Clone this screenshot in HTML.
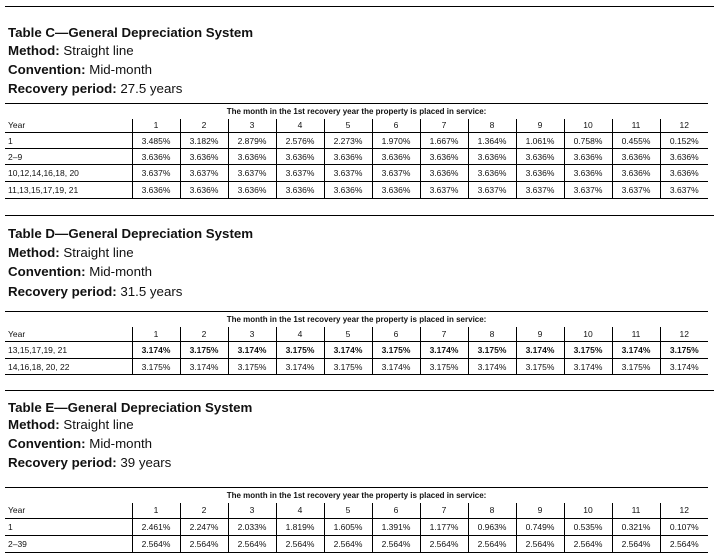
<!DOCTYPE html>
<html><head><meta charset="utf-8"><style>
*{margin:0;padding:0;box-sizing:border-box}
body{width:714px;height:554px;background:#fff;position:relative;overflow:hidden;font-family:"Liberation Sans",Arial,sans-serif;color:#111}
.hl{position:absolute;left:5px;width:709px;height:1px;background:#000}
.t{position:absolute;left:8px;font-size:13.3px;line-height:16px;white-space:nowrap}
.b{font-weight:bold}
table{position:absolute;left:5px;width:703px;border-collapse:collapse;table-layout:fixed;font-size:8.5px}
td{padding:0;text-align:center;vertical-align:middle;border-left:1px solid #000;white-space:nowrap}
td:first-child{border-left:none;text-align:left;padding-left:3px}
tr.r td{border-bottom:1px solid #000}
tr.h td{border:none;border-top:1px solid #000;text-align:center;padding:0;font-weight:bold;font-size:8px}
tr.bold td{font-weight:bold}
</style></head><body>
<div class="hl" style="top:6px"></div>
<div class="t b" style="top:25px">Table C—General Depreciation System</div>
<div class="t" style="top:43px"><b>Method:</b> Straight line</div>
<div class="t" style="top:62px"><b>Convention:</b> Mid-month</div>
<div class="t" style="top:81px"><b>Recovery period:</b> 27.5 years</div>
<table style="top:103px">
<colgroup><col style="width:127px"><col span="12" style="width:48px"></colgroup>
<tr class="h" style="height:15px"><td colspan="13">The month in the 1st recovery year the property is placed in service:</td></tr>
<tr class="r" style="height:14px"><td>Year</td><td>1</td><td>2</td><td>3</td><td>4</td><td>5</td><td>6</td><td>7</td><td>8</td><td>9</td><td>10</td><td>11</td><td>12</td></tr>
<tr class="r" style="height:16px"><td>1</td><td>3.485%</td><td>3.182%</td><td>2.879%</td><td>2.576%</td><td>2.273%</td><td>1.970%</td><td>1.667%</td><td>1.364%</td><td>1.061%</td><td>0.758%</td><td>0.455%</td><td>0.152%</td></tr>
<tr class="r" style="height:16px"><td>2–9</td><td>3.636%</td><td>3.636%</td><td>3.636%</td><td>3.636%</td><td>3.636%</td><td>3.636%</td><td>3.636%</td><td>3.636%</td><td>3.636%</td><td>3.636%</td><td>3.636%</td><td>3.636%</td></tr>
<tr class="r" style="height:17px"><td>10,12,14,16,18, 20</td><td>3.637%</td><td>3.637%</td><td>3.637%</td><td>3.637%</td><td>3.637%</td><td>3.637%</td><td>3.636%</td><td>3.636%</td><td>3.636%</td><td>3.636%</td><td>3.636%</td><td>3.636%</td></tr>
<tr class="r" style="height:17px"><td>11,13,15,17,19, 21</td><td>3.636%</td><td>3.636%</td><td>3.636%</td><td>3.636%</td><td>3.636%</td><td>3.636%</td><td>3.637%</td><td>3.637%</td><td>3.637%</td><td>3.637%</td><td>3.637%</td><td>3.637%</td></tr>
</table>

<div class="hl" style="top:215px"></div>
<div class="t b" style="top:226px">Table D—General Depreciation System</div>
<div class="t" style="top:245px"><b>Method:</b> Straight line</div>
<div class="t" style="top:264px"><b>Convention:</b> Mid-month</div>
<div class="t" style="top:284px"><b>Recovery period:</b> 31.5 years</div>
<table style="top:311px">
<colgroup><col style="width:127px"><col span="12" style="width:48px"></colgroup>
<tr class="h" style="height:15px"><td colspan="13">The month in the 1st recovery year the property is placed in service:</td></tr>
<tr class="r" style="height:15px"><td>Year</td><td>1</td><td>2</td><td>3</td><td>4</td><td>5</td><td>6</td><td>7</td><td>8</td><td>9</td><td>10</td><td>11</td><td>12</td></tr>
<tr class="r bold" style="height:17px"><td style="font-weight:normal">13,15,17,19, 21</td><td>3.174%</td><td>3.175%</td><td>3.174%</td><td>3.175%</td><td>3.174%</td><td>3.175%</td><td>3.174%</td><td>3.175%</td><td>3.174%</td><td>3.175%</td><td>3.174%</td><td>3.175%</td></tr>
<tr class="r" style="height:16px"><td>14,16,18, 20, 22</td><td>3.175%</td><td>3.174%</td><td>3.175%</td><td>3.174%</td><td>3.175%</td><td>3.174%</td><td>3.175%</td><td>3.174%</td><td>3.175%</td><td>3.174%</td><td>3.175%</td><td>3.174%</td></tr>
</table>

<div class="hl" style="top:390px"></div>
<div class="t b" style="top:400px">Table E—General Depreciation System</div>
<div class="t" style="top:417px"><b>Method:</b> Straight line</div>
<div class="t" style="top:436px"><b>Convention:</b> Mid-month</div>
<div class="t" style="top:455px"><b>Recovery period:</b> 39 years</div>
<table style="top:487px">
<colgroup><col style="width:127px"><col span="12" style="width:48px"></colgroup>
<tr class="h" style="height:15px"><td colspan="13">The month in the 1st recovery year the property is placed in service:</td></tr>
<tr class="r" style="height:16px"><td>Year</td><td>1</td><td>2</td><td>3</td><td>4</td><td>5</td><td>6</td><td>7</td><td>8</td><td>9</td><td>10</td><td>11</td><td>12</td></tr>
<tr class="r" style="height:17px"><td>1</td><td>2.461%</td><td>2.247%</td><td>2.033%</td><td>1.819%</td><td>1.605%</td><td>1.391%</td><td>1.177%</td><td>0.963%</td><td>0.749%</td><td>0.535%</td><td>0.321%</td><td>0.107%</td></tr>
<tr class="r" style="height:17px"><td>2–39</td><td>2.564%</td><td>2.564%</td><td>2.564%</td><td>2.564%</td><td>2.564%</td><td>2.564%</td><td>2.564%</td><td>2.564%</td><td>2.564%</td><td>2.564%</td><td>2.564%</td><td>2.564%</td></tr>
</table>
</body></html>
